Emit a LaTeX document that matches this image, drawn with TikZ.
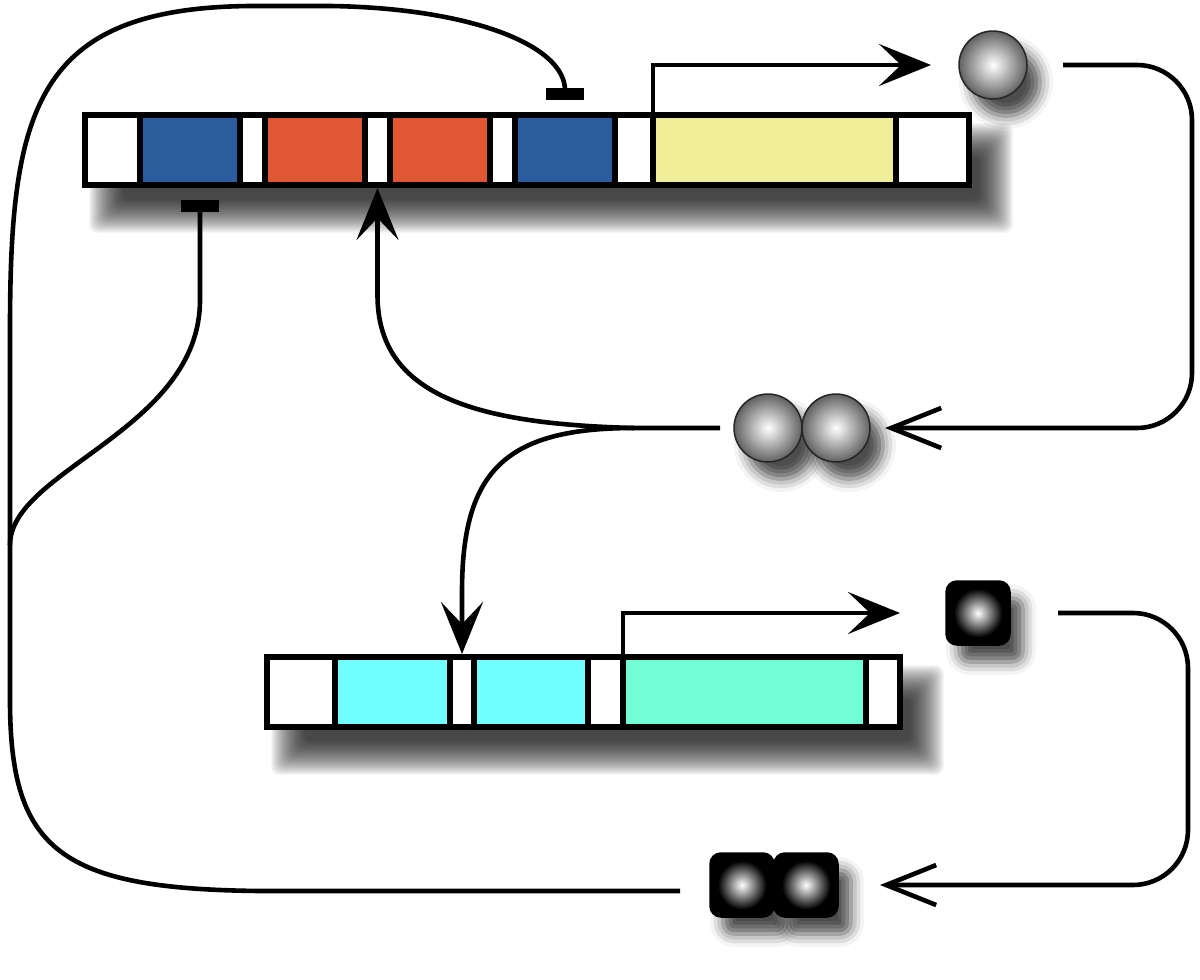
\documentclass[tikz,border=0pt]{standalone}
\usepackage[dvipsnames]{xcolor}
\usetikzlibrary{positioning,shadows.blur,arrows.meta}

\definecolor{dblue}{RGB}{43,93,158}
\definecolor{dorange}{RGB}{224,87,51}
\definecolor{lyellow}{RGB}{240,238,152}
\definecolor{lcyan}{RGB}{114,255,255}
\definecolor{laqua}{RGB}{114,255,214}

\pgfdeclareradialshading{orbshade}{\pgfpoint{0bp}{0bp}}{color(0bp)=(white); color(25bp)=(black!62); color(50bp)=(black!62)}
\pgfdeclareradialshading{cubeshade}{\pgfpoint{0bp}{0bp}}{color(0bp)=(white); color(19bp)=(black); color(50bp)=(black)}

% soft drop shadow under a gene node
\newcommand{\geneshadow}[1]{%
  \foreach \e in {-14,...,20}
    \fill[black,opacity=0.034,rounded corners=8pt]
      ([xshift={(24-\e)*1pt},yshift={(-28-\e)*1pt}]#1.south west) rectangle
      ([xshift={(24+\e)*1pt},yshift={(-28+\e)*1pt}]#1.north east);}

\begin{document}
\begin{tikzpicture}[x=1pt,y=-1pt,
  seg/.style={rectangle,draw,line width=6.5pt,minimum height=70pt,inner sep=0pt,outer sep=0pt,fill=white},
  orb/.style={circle,draw=black!85,line width=1.5pt,minimum size=68pt,inner sep=0pt,outer sep=0pt,shading=orbshade,
    blur shadow={shadow xshift=13pt,shadow yshift=-17pt,shadow blur radius=13pt,shadow opacity=70}},
  cube/.style={rectangle,rounded corners=11pt,draw=black,line width=1.5pt,minimum size=64pt,inner sep=0pt,outer sep=0pt,shading=cubeshade,
    blur shadow={shadow xshift=13pt,shadow yshift=-17pt,shadow blur radius=13pt,shadow opacity=70}},
  gene/.style={rectangle,minimum height=70pt,inner sep=0pt,outer sep=0pt},
  expr/.style={line width=4.6pt,-{Stealth[length=52pt,width=42pt,inset=22pt]}},
  bind/.style={line width=4.6pt,rounded corners=55pt,-{Straight Barb[length=50pt,width=40pt]}},
  inh/.style={line width=4.6pt,-{Rectangle[length=12pt,width=38pt]}}]

  \useasboundingbox (0,0) rectangle (1200,980);

  \node[gene,minimum width=884pt] (top) at (527,150) {};
  \node[gene,minimum width=633pt] (bot) at (583.5,692) {};
  \geneshadow{top}
  \geneshadow{bot}

  % upper gene
  \node[seg,minimum width=55pt,anchor=west] (a1) at (top.west) {};
  \node[seg,minimum width=100pt,fill=dblue,right=0pt of a1] (a2) {};
  \node[seg,minimum width=25pt,right=0pt of a2] (a3) {};
  \node[seg,minimum width=100pt,fill=dorange,right=0pt of a3] (a4) {};
  \node[seg,minimum width=25pt,right=0pt of a4] (a5) {};
  \node[seg,minimum width=100pt,fill=dorange,right=0pt of a5] (a6) {};
  \node[seg,minimum width=25pt,right=0pt of a6] (a7) {};
  \node[seg,minimum width=100pt,fill=dblue,right=0pt of a7] (a8) {};
  \node[seg,minimum width=38pt,right=0pt of a8] (a9) {};
  \node[seg,minimum width=243pt,fill=lyellow,right=0pt of a9] (a10) {};
  \node[seg,minimum width=73pt,right=0pt of a10] (a11) {};

  % lower gene
  \node[seg,minimum width=68pt,anchor=west] (b1) at (bot.west) {};
  \node[seg,minimum width=115pt,fill=lcyan,right=0pt of b1] (b2) {};
  \node[seg,minimum width=24pt,right=0pt of b2] (b3) {};
  \node[seg,minimum width=114pt,fill=lcyan,right=0pt of b3] (b4) {};
  \node[seg,minimum width=35pt,right=0pt of b4] (b5) {};
  \node[seg,minimum width=243pt,fill=laqua,right=0pt of b5] (b6) {};
  \node[seg,minimum width=34pt,right=0pt of b6] (b7) {};

  % proteins
  \node[orb] (mono) at (993,65) {};
  \node[orb] (dA) at (768,428) {};
  \node[orb,right=0pt of dA] (dB) {};
  \node[cube] (sq) at (978,613) {};
  \node[cube] (sqA) at (742,885) {};
  \node[cube,right=0pt of sqA] (sqB) {};

  \coordinate[right=322pt of dB.east] (rt);
  \coordinate[right=350pt of sqB.east] (rb);
  \coordinate[left=100pt of dA.west] (split);
  \coordinate (br) at (10,545);
  \coordinate (kb) at ([xshift=10pt,yshift=-15pt]a2.south);

  \draw[expr,shorten >=28pt] (a10.north west) |- (mono.west);
  \draw[expr,shorten >=46pt] (b6.north west) |- (sq.west);

  \draw[bind] ([xshift=36pt]mono.east) -| (rt) -- ([xshift=15pt]dB.east);
  \draw[bind] ([xshift=48pt]sq.east) -| (rb) -- ([xshift=42pt]sqB.east);

  \draw[expr] ([xshift=-14pt]dA.west) -- (split) .. controls +(-160,-4) and +(0,100) .. ([yshift=-110pt]a5.south) -- ([yshift=-3pt]a5.south);
  \draw[expr] (split) .. controls +(-130,0) and +(0,-120) .. ([yshift=65pt]b3.north) -- ([yshift=3pt]b3.north);

  \draw[inh] ([xshift=-30pt,yshift=-6pt]sqA.west) -- (260,891) .. controls (60,889) and (10,850) .. (10,700)
    -- (10,330) .. controls (10,110) and (35,8) .. (250,6) -- (330,6) .. controls (470,8) and (565,45) .. ([yshift=15pt]a8.north);
  \draw[inh] (br) .. controls +(0,-75) and +(0,130) .. ([yshift=-100pt]kb) -- (kb);

\end{tikzpicture}
\end{document}
